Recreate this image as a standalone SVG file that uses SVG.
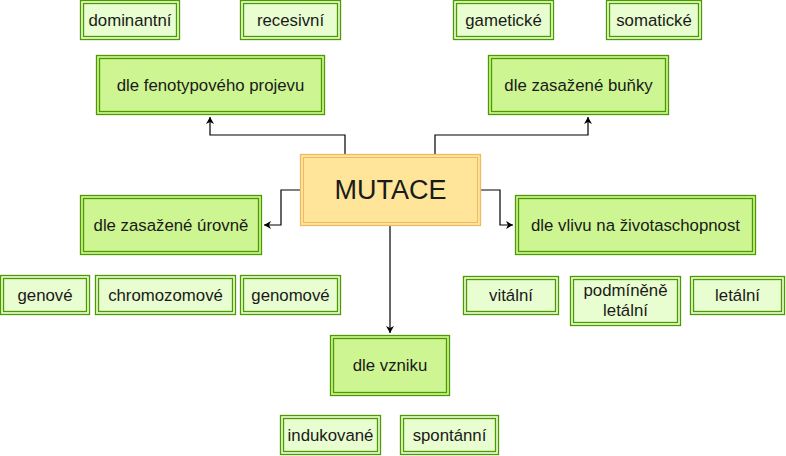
<svg xmlns="http://www.w3.org/2000/svg" width="786" height="456" viewBox="0 0 786 456">
<defs>
<style>
.o{fill:none;stroke:#4d9900;stroke-width:1.3}
.cat{fill:#cdf592}
.leaf{fill:#e8fdd0}
.mo{fill:#ffe599;stroke:#f2b865;stroke-width:1.3}
.mi{fill:none;stroke:#f2b865;stroke-width:1}
.t{font-family:"Liberation Sans",Arial,sans-serif;font-size:16.8px;fill:#1a1a1a;text-anchor:middle;dominant-baseline:central}
.big{font-size:27px}
.c{fill:none;stroke:#000;stroke-width:1.2}
</style>
<marker id="a" markerWidth="10" markerHeight="10" refX="8" refY="5" orient="auto" markerUnits="userSpaceOnUse">
<path d="M1,1 L8,5 L1,9 L3,5 Z" fill="#000"/>
</marker>
</defs>
<rect width="786" height="456" fill="#fff"/>
<g id="connectors">
<path class="c" d="M345,154 V135 H210 V117" marker-end="url(#a)"/>
<path class="c" d="M435,154 V135 H588 V117" marker-end="url(#a)"/>
<path class="c" d="M300,190 H281 V225 H264" marker-end="url(#a)"/>
<path class="c" d="M481,190 H500 V225 H513" marker-end="url(#a)"/>
<path class="c" d="M390,226 V333" marker-end="url(#a)"/>
</g>
<g id="mutace">
<rect class="mo" x="300.5" y="154.5" width="180" height="71"/>
<rect class="mi" x="303.5" y="157.5" width="174" height="65"/>
<text class="t big" x="390.5" y="190">MUTACE</text>
</g>
<g id="fenotyp">
<rect class="cat o" x="96.5" y="55.5" width="228" height="59"/>
<rect class="o" x="99.5" y="58.5" width="222" height="53"/>
<text class="t" x="210.5" y="85">dle fenotypového projevu</text>
</g>
<g id="bunka">
<rect class="cat o" x="488.5" y="55.5" width="180" height="59"/>
<rect class="o" x="491.5" y="58.5" width="174" height="53"/>
<text class="t" x="578.5" y="85">dle zasažené buňky</text>
</g>
<g id="uroven">
<rect class="cat o" x="80.5" y="195.5" width="181" height="59"/>
<rect class="o" x="83.5" y="198.5" width="175" height="53"/>
<text class="t" x="171" y="225">dle zasažené úrovně</text>
</g>
<g id="vliv">
<rect class="cat o" x="515.5" y="195.5" width="240" height="59"/>
<rect class="o" x="518.5" y="198.5" width="234" height="53"/>
<text class="t" x="635.5" y="225">dle vlivu na životaschopnost</text>
</g>
<g id="vznik">
<rect class="cat o" x="330.5" y="335.5" width="119" height="60"/>
<rect class="o" x="333.5" y="338.5" width="113" height="54"/>
<text class="t" x="390" y="365.5">dle vzniku</text>
</g>
<g id="dominantni">
<rect class="leaf o" x="80.5" y="0.5" width="99" height="39"/>
<rect class="o" x="83.5" y="3.5" width="93" height="33"/>
<text class="t" x="130" y="20">dominantní</text>
</g>
<g id="recesivni">
<rect class="leaf o" x="240.5" y="0.5" width="100" height="39"/>
<rect class="o" x="243.5" y="3.5" width="94" height="33"/>
<text class="t" x="290.5" y="20">recesivní</text>
</g>
<g id="gameticke">
<rect class="leaf o" x="453.5" y="0.5" width="100" height="39"/>
<rect class="o" x="456.5" y="3.5" width="94" height="33"/>
<text class="t" x="503.5" y="20">gametické</text>
</g>
<g id="somaticke">
<rect class="leaf o" x="606.5" y="0.5" width="95" height="39"/>
<rect class="o" x="609.5" y="3.5" width="89" height="33"/>
<text class="t" x="654" y="20">somatické</text>
</g>
<g id="genove">
<rect class="leaf o" x="0.5" y="275.5" width="89" height="39"/>
<rect class="o" x="3.5" y="278.5" width="83" height="33"/>
<text class="t" x="45" y="295">genové</text>
</g>
<g id="chromozomove">
<rect class="leaf o" x="95.5" y="275.5" width="140" height="39"/>
<rect class="o" x="98.5" y="278.5" width="134" height="33"/>
<text class="t" x="165.5" y="295">chromozomové</text>
</g>
<g id="genomove">
<rect class="leaf o" x="240.5" y="275.5" width="100" height="39"/>
<rect class="o" x="243.5" y="278.5" width="94" height="33"/>
<text class="t" x="290.5" y="295">genomové</text>
</g>
<g id="vitalni">
<rect class="leaf o" x="463.5" y="276.5" width="95" height="38"/>
<rect class="o" x="466.5" y="279.5" width="89" height="32"/>
<text class="t" x="511" y="295.5">vitální</text>
</g>
<g id="podminene">
<rect class="leaf o" x="570.5" y="276.5" width="110" height="49"/>
<rect class="o" x="573.5" y="279.5" width="104" height="43"/>
<text class="t" x="625.5" y="290">podmíněně</text>
<text class="t" x="625.5" y="310">letální</text>
</g>
<g id="letalni">
<rect class="leaf o" x="690.5" y="276.5" width="94" height="38"/>
<rect class="o" x="693.5" y="279.5" width="88" height="32"/>
<text class="t" x="737.5" y="295.5">letální</text>
</g>
<g id="indukovane">
<rect class="leaf o" x="280.5" y="415.5" width="100" height="39"/>
<rect class="o" x="283.5" y="418.5" width="94" height="33"/>
<text class="t" x="330.5" y="435">indukované</text>
</g>
<g id="spontanni">
<rect class="leaf o" x="400.5" y="415.5" width="98" height="39"/>
<rect class="o" x="403.5" y="418.5" width="92" height="33"/>
<text class="t" x="449.5" y="435">spontánní</text>
</g>
</svg>
